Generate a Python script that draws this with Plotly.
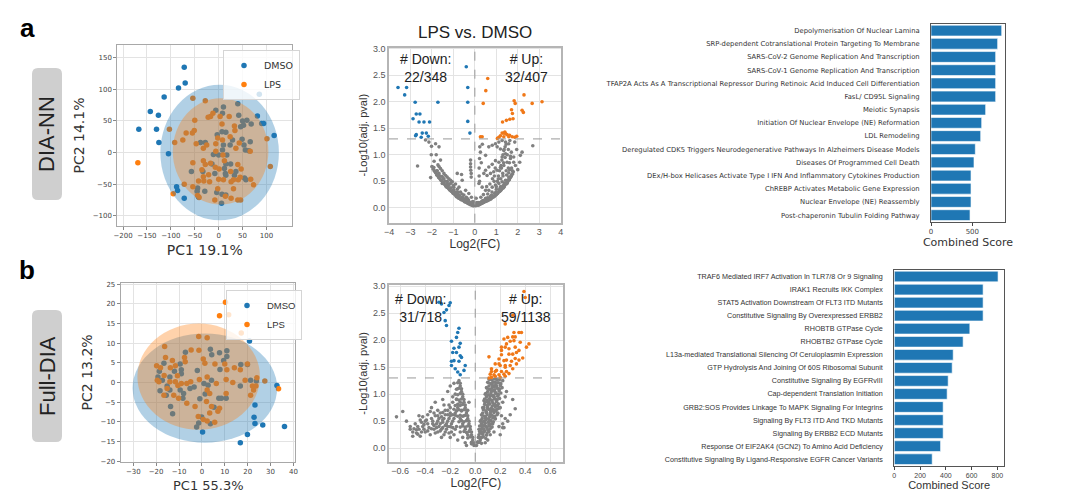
import plotly.graph_objects as go

# ---------------- data ----------------
# PCA, DIA-NN (PC1, PC2)
pca_a_dmso = [(-72, 135), (-70, 110), (-84, 102), (-114, 88), (-143, 65), (-126, 59), (-167, 37), (-130, 37),
              (-125, 16), (-105, -2), (85, 92), (81, 58), (90, 46), (94, 46), (116, 27), (-88, -54), (-86, -60),
              (-72, -72), (-6, 67), (10, 72), (8, 62), (40, 77), (42, 59), (50, 50), (59, 51), (52, 43), (46, 41),
              (68, 45), (15, 32), (7, 33), (-3, 28), (29, 20), (49, 21), (53, 12), (66, 17), (63, 3), (56, 4),
              (24, 12), (-38, 16), (-28, 16), (10, 12), (8, 4), (-11, -3), (0, -4), (17, -4), (25, -18), (15, -18),
              (-14, -18), (-57, -30), (-33, -30), (-8, -33), (14, -33), (15, -36), (12, -25), (36, -30), (54, -40),
              (57, -43), (-44, -56), (-45, -61), (-29, -61), (-4, -63), (7, -66), (15, -67), (6, -80), (-42, -70),
              (33, -36)]
pca_a_lps = [(-169, -16), (-95, -65), (-54, 86), (-28, 82), (-12, 62), (-22, 56), (-17, 57), (3, 57), (22, 57),
             (-50, 51), (7, 45), (33, 42), (34, 35), (24, 25), (-68, 31), (-51, 35), (-55, 31), (-103, 37),
             (-92, 16), (-75, 20), (-47, 14), (-32, 7), (-25, 12), (-2, 23), (-6, 14), (8, 20), (-6, 2), (9, -4),
             (43, 15), (36, 7), (66, 2), (101, 22), (108, -22), (-54, -16), (-32, -13), (-28, -19), (-17, -17),
             (-7, -23), (1, -26), (-35, -27), (25, -30), (40, -19), (47, -26), (-32, -38), (-42, -45), (-31, -45),
             (-19, -46), (0, -42), (10, -43), (26, -46), (31, -43), (41, -43), (45, -39), (67, -42), (73, -51),
             (31, -57), (-72, -50), (-54, -54), (-44, -68), (-41, -71), (-8, -75), (14, -69), (26, -72), (40, -75),
             (46, -75), (-2, -57), (-21, -35), (12, -13)]
# confidence ellipses: (center x, center y, half width, half height)
ell_a_dmso = (2, 0, 124, 107)
ell_a_lps = (4, 2, 100, 84)

# PCA, Full-DIA
pca_b_dmso = [(20.8, 10.6), (32.8, -0.75), (23.2, -5.7), (23.2, -10.4), (26.6, -10.8), (36.1, -11.2),
              (19.9, -13.2), (16.8, -15.3), (22.8, -8.8), (21.3, 0.6), (23.8, 0.4), (19.9, 4.6), (17.0, 4.6),
              (16.8, -0.9), (7.9, 3.3), (-16.6, 4.9), (-18.6, 2.9), (-19.2, 1.4), (-17.3, 0.6), (-18.3, -2.1),
              (-15.6, -3.2), (-15.2, -0.9), (-14, 1.4), (-12, 2.9), (-9.5, 4.75), (-9, 3.25), (-9, 2.25),
              (-14, -1.9), (-13.7, -6.1), (-12.8, -7.9), (-9.5, -1.9), (-8.3, -4), (-8, -2.75), (-2, 3.1),
              (-5.2, -1.5), (-3.4, -1.1), (-0.9, -4.1), (1.4, -2.9), (0.9, -0.25), (3.7, 8.5), (4.3, 7.1),
              (7.7, 7.6), (10.9, 8.1), (9.5, 5.6), (10.9, 6.6), (4.2, 0.6), (2.7, -0.7), (7.4, -4), (8.5, -4),
              (-1.4, -10.25), (-2.3, -11.3), (0.3, -12.6), (3.7, -10.5), (-0.1, -8.75), (10.6, -4), (5.3, -6.3),
              (-7.2, 7.7)]
pca_b_lps = [(10.3, 20.4), (7.7, 17), (11.7, 17.25), (17.2, 12.6), (-1.4, 11.7), (2.3, 11.4), (-16.3, 9.2),
             (-4.7, 8.3), (-1.3, 8.25), (-7.6, 6.4), (-12.9, 5.6), (-15.9, 6.4), (-19.8, 4.3), (-18.1, 3.75),
             (-13.8, 3.75), (-11.6, 4.3), (-7.3, 5.3), (0.6, 6), (1.3, 4.9), (5.7, 4.75), (10, 4.75), (10.9, 3.25),
             (14.2, 3.75), (19.9, 4.75), (16.8, 3.25), (-16.5, 1.8), (-10.7, 1.75), (-19.5, 0.6), (-18.8, 0.2),
             (-14, 0.2), (-11.6, 0.2), (-10.5, -0.75), (-9, -0.25), (-6.6, -0.25), (-4.9, 0.2), (-1.1, 0.75),
             (2.3, 1.4), (2.3, -1.9), (3.4, -2.75), (6.3, -0.25), (10.6, -2.75), (-16.6, -3.2), (-12.3, -3.2),
             (-10.2, -4), (-15.2, -1.5), (-6.6, -5.25), (-3, -6.1), (2, -4.8), (3.4, -7.75), (7, -7.3), (7.7, -6.5),
             (-1.6, -8.6), (0.6, -9.4), (2.3, -9.8), (5.6, -10.1), (4.2, -6.1), (18.9, 0.6), (22.1, -0.9),
             (22.6, -1.9), (23.6, -0.9), (27.5, 0.4), (24, 1.2), (33.5, -1.6), (21.3, -3.2), (10.6, 0.75),
             (13.5, 0)]
ell_b_dmso = (1.3, -1.4, 31.6, 13.9)
ell_b_lps = (-1.4, 1.5, 26.8, 13.5)

# Volcano, DIA-NN (log2FC, -log10 adj p)
vol_a_down = [(-0.40, 2.66), (-3.58, 2.27), (-3.18, 2.27), (-3.27, 2.13), (-0.33, 2.27), (-2.78, 1.99),
              (-1.72, 1.99), (-0.33, 1.99), (-2.73, 1.77), (-2.56, 1.77), (-2.88, 1.68), (-2.60, 1.62),
              (-2.37, 1.62), (-2.11, 1.62), (-0.33, 1.63), (-2.73, 1.38), (-2.76, 1.36), (-2.45, 1.41),
              (-2.26, 1.41), (-2.17, 1.35), (-0.23, 1.41), (-2.5, 1.33)]
vol_a_up = [(0.60, 2.44), (0.51, 2.21), (0.39, 1.97), (2.29, 2.13), (1.83, 2.02), (1.88, 1.97), (3.13, 2.0),
            (2.67, 1.97), (1.71, 1.85), (2.2, 1.84), (2.26, 1.80), (1.75, 1.78), (1.47, 1.65), (1.63, 1.67),
            (1.78, 1.68), (1.29, 1.62), (0.26, 1.34), (0.34, 1.34), (1.27, 1.41), (1.35, 1.41), (1.43, 1.40),
            (1.5, 1.38), (1.19, 1.36), (1.12, 1.33), (1.35, 1.34), (1.58, 1.34), (1.74, 1.34), (1.86, 1.33),
            (1.40, 1.43), (1.62, 1.37), (1.95, 1.35), (1.05, 1.31)]
vol_a_ns = [(-2.14, 1.24), (-2.02, 1.16), (-1.83, 1.21), (-1.67, 1.15), (-2.03, 1.0), (-2.67, 0.79), (-1.72, 0.81),
            (-2.06, 0.57), (-1.98, 0.77), (-1.67, 0.78), (-1.6, 0.74), (-1.52, 0.70), (-1.44, 0.65), (-1.36, 0.61),
            (-1.29, 0.58), (-1.21, 0.55), (-1.13, 0.52), (-1.05, 0.49), (-0.9, 0.45), (-0.74, 0.39), (-0.82, 0.65),
            (-0.62, 0.63), (-0.59, 0.52), (-0.43, 0.33), (-0.28, 0.27), (-0.16, 0.20), (-0.05, 0.11), (0.0, 0.05),
            (-0.2, 0.08), (-0.36, 0.18), (-0.51, 0.24), (-0.67, 0.30), (-0.82, 0.35), (-0.98, 0.39), (-1.13, 0.46),
            (-1.29, 0.50), (-1.44, 0.55), (-1.52, 0.59), (-1.67, 0.65), (-1.75, 0.70), (-0.2, 0.9), (-0.2, 0.83),
            (-0.2, 0.77), (-0.19, 0.71), (-0.17, 0.65), (-0.17, 0.58), (0.06, 0.18), (0.23, 1.15), (0.26, 1.05),
            (0.22, 0.93), (0.5, 0.99), (0.65, 1.15), (0.81, 1.18), (0.96, 1.21), (1.12, 1.24), (1.27, 1.27),
            (1.43, 1.24), (1.58, 1.21), (1.63, 1.27), (1.04, 1.15), (1.19, 1.11), (1.35, 1.08), (1.43, 1.02),
            (1.27, 0.96), (0.96, 0.89), (1.12, 0.86), (0.81, 0.82), (0.65, 0.77), (0.5, 0.71), (0.42, 0.65),
            (0.57, 0.61), (0.73, 0.65), (0.88, 0.68), (1.04, 0.71), (1.19, 0.76), (1.35, 0.80), (1.5, 0.86),
            (1.66, 0.93), (1.81, 0.86), (1.89, 0.80), (2.09, 0.86), (1.81, 0.96), (2.12, 0.99), (2.7, 1.17),
            (1.86, 1.24), (0.19, 0.46), (0.34, 0.39), (0.5, 0.33), (0.65, 0.33), (0.81, 0.39), (0.96, 0.43),
            (1.12, 0.46), (1.27, 0.49), (1.43, 0.52), (1.5, 0.46), (1.35, 0.39), (1.19, 0.33), (0.96, 0.27),
            (0.73, 0.22), (0.5, 0.18), (0.34, 0.13), (0.19, 0.09), (0.06, 0.07), (-0.12, 0.07), (-0.28, 0.11),
            (-0.43, 0.14), (-0.59, 0.18), (-0.74, 0.23), (-0.9, 0.27), (-1.05, 0.32), (-1.21, 0.36), (-1.36, 0.41),
            (-1.52, 0.46), (0.2, 0.6), (0.2, 0.75), (0.22, 0.5), (-0.6, 0.26), (-0.4, 0.2), (-1.0, 0.42),
            (0.4, 0.25), (0.6, 0.26), (0.8, 0.3), (1.0, 0.35), (1.2, 0.4), (1.4, 0.45), (1.6, 0.55), (1.7, 0.6),
            (1.3, 0.65), (1.1, 0.55), (0.9, 0.5), (0.7, 0.45), (0.55, 0.4), (-0.3, 0.15), (-0.1, 0.12), (0.1, 0.1),
            (0.28, 0.2), (-0.8, 0.3), (-1.2, 0.45), (2.0, 0.72), (2.2, 1.05), (1.95, 1.1), (1.7, 1.05), (0.35, 1.2),
            (0.3, 0.85), (-2.3, 1.28), (-1.8, 1.0), (-1.6, 0.9), (-1.9, 0.88),
            # dense lower band of the U
            (-2.0, 0.78), (-1.94, 0.73), (-1.88, 0.69), (-1.83, 0.66), (-1.78, 0.62), (-1.74, 0.61), (-1.69, 0.57),
            (-1.63, 0.55), (-1.58, 0.52), (-1.54, 0.51), (-1.49, 0.48), (-1.46, 0.47), (-1.41, 0.44), (-1.34, 0.42),
            (-1.31, 0.39), (-1.26, 0.38), (-1.19, 0.35), (-1.16, 0.33), (-1.09, 0.31), (-1.04, 0.29), (-1.01, 0.27),
            (-0.94, 0.25), (-0.88, 0.23), (-0.86, 0.21), (-0.79, 0.2), (-0.76, 0.18), (-0.69, 0.17), (-0.66, 0.16),
            (-0.61, 0.15), (-0.54, 0.14), (-0.49, 0.12), (-0.46, 0.11), (-0.39, 0.1), (-0.34, 0.09), (-0.31, 0.08),
            (-0.24, 0.07), (-0.21, 0.06), (-0.14, 0.05), (-0.09, 0.04), (-0.04, 0.04), (-1.91, 0.76), (-1.79, 0.7),
            (-1.71, 0.64), (-1.62, 0.6), (-1.48, 0.55), (-1.39, 0.5), (-1.28, 0.46), (-1.22, 0.42), (-1.11, 0.38),
            (-0.99, 0.34), (-0.91, 0.3), (-0.78, 0.26), (-0.72, 0.23), (-0.58, 0.2), (-0.52, 0.17), (-0.41, 0.15),
            (-0.29, 0.13), (-0.18, 0.1), (-0.11, 0.08), (0.04, 0.04), (0.11, 0.05), (0.16, 0.05), (0.21, 0.06),
            (0.24, 0.07), (0.31, 0.08), (0.36, 0.09), (0.41, 0.1), (0.44, 0.11), (0.51, 0.12), (0.56, 0.13),
            (0.61, 0.14), (0.64, 0.15), (0.71, 0.16), (0.76, 0.17), (0.79, 0.19), (0.86, 0.2), (0.91, 0.22),
            (0.94, 0.23), (1.01, 0.25), (1.06, 0.27), (1.09, 0.29), (1.16, 0.31), (1.21, 0.33), (1.24, 0.35),
            (1.31, 0.37), (1.36, 0.4), (1.39, 0.42), (1.46, 0.45), (1.51, 0.48), (1.54, 0.5), (1.61, 0.53),
            (1.66, 0.57), (1.69, 0.6), (1.76, 0.64), (1.79, 0.68), (0.12, 0.08), (0.19, 0.1), (0.32, 0.12),
            (0.39, 0.14), (0.52, 0.16), (0.59, 0.19), (0.72, 0.21), (0.78, 0.24), (0.92, 0.27), (0.98, 0.3),
            (1.12, 0.34), (1.18, 0.38), (1.32, 0.42), (1.38, 0.47), (1.52, 0.52), (1.58, 0.58), (1.72, 0.63),
            # right arm interior
            (1.0, 0.4), (1.05, 0.5), (1.1, 0.6), (1.15, 0.7), (1.22, 0.8), (1.26, 0.9), (1.31, 1.0), (1.36, 1.1),
            (1.41, 1.15), (1.46, 1.2), (1.21, 0.55), (1.31, 0.6), (1.24, 0.75), (1.34, 0.85), (1.41, 0.95),
            (1.51, 1.0), (1.56, 1.1), (1.46, 0.7), (1.56, 0.75), (1.61, 0.85), (1.66, 0.97), (1.71, 0.75),
            (0.91, 0.6), (0.82, 0.55), (0.95, 0.75), (1.48, 0.62), (1.58, 0.66), (1.62, 0.72), (1.75, 0.7)]

# Volcano, Full-DIA
vol_b_down = [(-0.20, 2.69), (-0.21, 2.64), (-0.23, 2.56), (-0.25, 2.51), (-0.29, 2.70), (-0.27, 2.67),
              (-0.24, 2.36), (-0.23, 2.27), (-0.13, 2.22), (-0.14, 2.14), (-0.19, 1.98), (-0.12, 1.94),
              (-0.17, 1.85), (-0.13, 1.87), (-0.15, 1.77), (-0.17, 1.62), (-0.13, 1.61), (-0.08, 1.53),
              (-0.19, 1.53), (-0.14, 1.41), (-0.12, 1.36), (-0.11, 1.68), (-0.16, 1.47), (-0.12, 1.71),
              (-0.18, 1.77), (-0.15, 2.05), (-0.09, 1.44), (-0.19, 1.61)]
vol_b_up = [(0.39, 2.9), (0.40, 2.79), (0.24, 2.30), (0.23, 2.02), (0.26, 2.05), (0.30, 2.06), (0.32, 2.06),
            (0.35, 2.14), (0.37, 2.14), (0.31, 1.99), (0.28, 1.98), (0.43, 1.93), (0.24, 1.87), (0.27, 1.84),
            (0.32, 1.87), (0.35, 1.81), (0.30, 1.74), (0.11, 1.69), (0.21, 1.73), (0.19, 1.65), (0.23, 1.62),
            (0.25, 1.63), (0.29, 1.61), (0.16, 1.56), (0.20, 1.53), (0.24, 1.53), (0.13, 1.47), (0.17, 1.44),
            (0.21, 1.42), (0.25, 1.42), (0.12, 1.37), (0.15, 1.36), (0.19, 1.36), (0.23, 1.37), (0.16, 1.33),
            (0.20, 1.31), (0.24, 1.33), (0.13, 1.31), (0.11, 1.30), (0.27, 1.38), (0.30, 1.47), (0.33, 1.56),
            (0.35, 1.63), (0.27, 1.74), (0.36, 1.96), (0.30, 2.46), (0.21, 1.87), (0.25, 1.93), (0.19, 1.56),
            (0.16, 1.42), (0.13, 1.42), (0.24, 1.50), (0.28, 1.53), (0.32, 1.66), (0.21, 1.81), (0.33, 1.77),
            (0.38, 1.67), (0.41, 1.87), (0.31, 2.14)]
vol_b_ns = [(0.01, 0.05), (0.02, 0.12), (0.03, 0.2), (0.04, 0.28), (0.05, 0.35), (0.06, 0.42), (0.07, 0.5),
            (0.08, 0.58), (0.09, 0.66), (0.10, 0.74), (0.11, 0.82), (0.12, 0.9), (0.13, 0.98), (0.14, 1.06),
            (0.15, 1.14), (0.16, 1.22), (0.17, 1.28), (0.05, 0.2), (0.07, 0.3), (0.09, 0.4), (0.11, 0.5),
            (0.12, 0.6), (0.14, 0.7), (0.15, 0.8), (0.17, 0.9), (0.18, 1.0), (0.19, 1.1), (0.2, 1.2), (0.22, 1.25),
            (0.03, 0.35), (0.04, 0.5), (0.05, 0.62), (0.06, 0.75), (0.07, 0.88), (0.08, 1.0), (0.09, 1.12),
            (0.1, 1.22), (0.11, 1.28), (0.13, 0.45), (0.16, 0.55), (0.18, 0.65), (0.2, 0.75), (0.22, 0.85),
            (0.24, 0.95), (0.25, 1.05), (0.21, 0.6), (0.19, 0.4), (0.15, 0.3), (0.12, 0.25), (0.1, 0.15),
            (0.08, 0.1), (0.26, 0.5), (0.28, 0.62), (0.22, 0.38), (0.2, 0.25), (0.32, 0.73), (0.3, 0.9),
            (0.17, 1.15), (0.13, 1.2), (0.15, 0.95), (0.1, 0.85), (0.06, 0.3), (0.04, 0.15), (0.09, 0.55),
            (0.18, 0.78), (0.12, 0.7),
            (-0.01, 0.05), (-0.02, 0.15), (-0.03, 0.25), (-0.04, 0.35), (-0.05, 0.45), (-0.06, 0.55),
            (-0.07, 0.65), (-0.08, 0.75), (-0.09, 0.85), (-0.1, 0.95), (-0.11, 1.05), (-0.12, 1.15),
            (-0.13, 1.25), (-0.14, 1.1), (-0.16, 1.0), (-0.18, 0.95), (-0.15, 0.9), (-0.12, 0.3), (-0.15, 0.4),
            (-0.18, 0.5), (-0.2, 0.6), (-0.22, 0.7), (-0.25, 0.55), (-0.28, 0.45), (-0.3, 0.5), (-0.32, 0.6),
            (-0.35, 0.55), (-0.38, 0.45), (-0.4, 0.5), (-0.42, 0.4), (-0.45, 0.35), (-0.48, 0.45), (-0.5, 0.3),
            (-0.47, 0.28), (-0.44, 0.22), (-0.4, 0.3), (-0.36, 0.25), (-0.33, 0.35), (-0.3, 0.3), (-0.27, 0.2),
            (-0.24, 0.3), (-0.22, 0.4), (-0.2, 0.2), (-0.17, 0.25), (-0.14, 0.15), (-0.1, 0.2), (-0.08, 0.1),
            (-0.06, 0.25), (-0.2, 0.75), (-0.25, 0.8), (-0.3, 0.7), (-0.35, 0.75), (-0.28, 0.65), (-0.18, 0.85),
            (-0.24, 0.62), (-0.38, 0.62), (-0.42, 0.58), (-0.45, 0.6), (-0.52, 0.4), (-0.55, 0.5), (-0.63, 0.58),
            (-0.58, 0.68), (-0.16, 0.65), (-0.12, 0.55), (-0.1, 0.45), (-0.08, 0.35), (-0.14, 0.75),
            (-0.12, 0.85), (-0.06, 0.7), (-0.05, 0.85), (-0.22, 1.05), (-0.2, 1.15), (-0.17, 1.2), (-0.26, 0.9),
            (-0.32, 0.85), (-0.07, 0.05), (-0.03, 0.08), (-0.09, 0.6), (-0.11, 0.7), (-0.26, 0.38), (-0.34, 0.45),
            # dense right arm of the V
            (0.02, 0.1), (0.035, 0.11), (0.05, 0.09), (0.025, 0.2), (0.045, 0.19), (0.065, 0.21), (0.085, 0.18),
            (0.035, 0.31), (0.055, 0.29), (0.075, 0.32), (0.095, 0.28), (0.11, 0.31), (0.035, 0.41), (0.055, 0.39),
            (0.075, 0.42), (0.095, 0.38), (0.115, 0.41), (0.135, 0.39), (0.045, 0.51), (0.065, 0.49),
            (0.085, 0.52), (0.105, 0.48), (0.125, 0.51), (0.145, 0.49), (0.055, 0.61), (0.075, 0.59),
            (0.095, 0.62), (0.115, 0.58), (0.135, 0.61), (0.155, 0.59), (0.175, 0.62), (0.065, 0.71),
            (0.085, 0.69), (0.105, 0.72), (0.125, 0.68), (0.145, 0.71), (0.165, 0.69), (0.175, 0.72),
            (0.075, 0.81), (0.095, 0.79), (0.115, 0.82), (0.135, 0.78), (0.155, 0.81), (0.165, 0.79),
            (0.185, 0.82), (0.075, 0.91), (0.095, 0.89), (0.115, 0.92), (0.135, 0.88), (0.155, 0.91),
            (0.175, 0.89), (0.195, 0.92), (0.085, 1.01), (0.105, 0.99), (0.125, 1.02), (0.145, 0.98),
            (0.165, 1.01), (0.185, 0.99), (0.205, 1.02), (0.095, 1.11), (0.115, 1.09), (0.135, 1.12),
            (0.155, 1.08), (0.175, 1.11), (0.195, 1.09), (0.215, 1.12), (0.105, 1.21), (0.125, 1.19),
            (0.145, 1.22), (0.165, 1.18), (0.185, 1.21), (0.205, 1.19), (0.115, 1.27), (0.135, 1.26),
            (0.155, 1.28), (0.175, 1.26), (0.195, 1.27), (0.03, 0.25), (0.06, 0.26), (0.09, 0.24),
            (0.045, 0.35), (0.07, 0.36), (0.1, 0.34), (0.12, 0.36), (0.05, 0.45), (0.08, 0.46), (0.11, 0.44),
            (0.14, 0.45), (0.055, 0.55), (0.08, 0.56), (0.11, 0.54), (0.14, 0.56), (0.16, 0.54), (0.06, 0.65),
            (0.09, 0.66), (0.12, 0.64), (0.15, 0.66), (0.18, 0.64), (0.07, 0.75), (0.1, 0.76), (0.13, 0.74),
            (0.16, 0.76), (0.19, 0.74), (0.08, 0.85), (0.11, 0.86), (0.14, 0.84), (0.17, 0.86), (0.09, 0.95),
            (0.12, 0.96), (0.15, 0.94), (0.18, 0.96), (0.1, 1.05), (0.13, 1.06), (0.16, 1.04), (0.19, 1.06),
            (0.11, 1.15), (0.14, 1.16), (0.17, 1.14), (0.2, 1.16),
            # dense left arm and cloud
            (-0.01, 0.1), (-0.03, 0.11), (-0.02, 0.2), (-0.04, 0.21), (-0.06, 0.19), (-0.03, 0.3), (-0.05, 0.31),
            (-0.07, 0.29), (-0.09, 0.31), (-0.04, 0.4), (-0.06, 0.41), (-0.08, 0.39), (-0.1, 0.41), (-0.12, 0.39),
            (-0.05, 0.5), (-0.07, 0.51), (-0.09, 0.49), (-0.11, 0.51), (-0.13, 0.49), (-0.06, 0.6), (-0.08, 0.61),
            (-0.1, 0.59), (-0.12, 0.61), (-0.14, 0.59), (-0.16, 0.61), (-0.07, 0.7), (-0.09, 0.71), (-0.11, 0.69),
            (-0.13, 0.71), (-0.15, 0.69), (-0.08, 0.8), (-0.1, 0.81), (-0.12, 0.79), (-0.14, 0.81), (-0.16, 0.79),
            (-0.09, 0.9), (-0.11, 0.91), (-0.13, 0.89), (-0.15, 0.91), (-0.1, 1.0), (-0.12, 1.01), (-0.14, 0.99),
            (-0.11, 1.1), (-0.13, 1.11), (-0.15, 1.09), (-0.12, 1.2), (-0.14, 1.21), (-0.22, 0.5), (-0.26, 0.48),
            (-0.29, 0.4), (-0.31, 0.45), (-0.34, 0.5), (-0.37, 0.38), (-0.41, 0.35), (-0.43, 0.48), (-0.46, 0.4),
            (-0.49, 0.36), (-0.25, 0.25), (-0.23, 0.35), (-0.19, 0.45), (-0.21, 0.55), (-0.27, 0.58),
            (-0.33, 0.65), (-0.36, 0.68), (-0.3, 0.6), (-0.24, 0.7), (-0.2, 0.65), (-0.17, 0.55), (-0.16, 0.35),
            (-0.19, 0.3), (-0.28, 0.32), (-0.32, 0.28), (-0.38, 0.32), (-0.43, 0.3), (-0.46, 0.26), (-0.5, 0.22),
            (-0.52, 0.35), (-0.18, 0.38), (-0.21, 0.28), (-0.23, 0.45), (-0.26, 0.52), (-0.29, 0.55),
            (-0.33, 0.42), (-0.35, 0.36), (-0.39, 0.52), (-0.41, 0.44), (-0.44, 0.52), (-0.47, 0.34),
            (-0.2, 0.4), (-0.24, 0.42), (-0.27, 0.35), (-0.31, 0.38), (-0.18, 0.62), (-0.22, 0.62),
            (-0.26, 0.66), (-0.17, 0.72), (-0.21, 0.8), (0.23, 0.38), (0.22, 0.45), (0.24, 0.55)]

counts_a = {"down": "22/348", "up": "32/407"}
counts_b = {"down": "31/718", "up": "59/1138"}
p_cut = 1.3

# Enrichment, DIA-NN
terms_a = ["Depolymerisation Of Nuclear Lamina",
           "SRP-dependent Cotranslational Protein Targeting To Membrane",
           "SARS-CoV-2 Genome Replication And Transcription",
           "SARS-CoV-1 Genome Replication And Transcription",
           "TFAP2A Acts As A Transcriptional Repressor During Retinoic Acid Induced Cell Differentiation",
           "FasL/ CD95L Signaling",
           "Meiotic Synapsis",
           "Initiation Of Nuclear Envelope (NE) Reformation",
           "LDL Remodeling",
           "Deregulated CDK5 Triggers Neurodegenerative Pathways In Alzheimers Disease Models",
           "Diseases Of Programmed Cell Death",
           "DEx/H-box Helicases Activate Type I IFN And Inflammatory Cytokines Production",
           "ChREBP Activates Metabolic Gene Expression",
           "Nuclear Envelope (NE) Reassembly",
           "Post-chaperonin Tubulin Folding Pathway"]
scores_a = [855, 806, 782, 782, 782, 782, 661, 613, 601, 536, 520, 484, 484, 484, 472]

# Enrichment, Full-DIA
terms_b = ["TRAF6 Mediated IRF7 Activation In TLR7/8 Or 9 Signaling",
           "IRAK1 Recruits IKK Complex",
           "STAT5 Activation Downstream Of FLT3 ITD Mutants",
           "Constitutive Signaling By Overexpressed ERBB2",
           "RHOBTB GTPase Cycle",
           "RHOBTB2 GTPase Cycle",
           "L13a-mediated Translational Silencing Of Ceruloplasmin Expression",
           "GTP Hydrolysis And Joining Of 60S Ribosomal Subunit",
           "Constitutive Signaling By EGFRvIII",
           "Cap-dependent Translation Initiation",
           "GRB2:SOS Provides Linkage To MAPK Signaling For Integrins",
           "Signaling By FLT3 ITD And TKD Mutants",
           "Signaling By ERBB2 ECD Mutants",
           "Response Of EIF2AK4 (GCN2) To Amino Acid Deficiency",
           "Constitutive Signaling By Ligand-Responsive EGFR Cancer Variants"]
scores_b = [805, 689, 689, 689, 586, 534, 457, 449, 418, 410, 379, 379, 379, 359, 294]

# ---------------- figure ----------------
W, H = 1080, 493
BLUE, ORANGE, GREY = "#1f77b4", "#ff7f0e", "#808080"
DV, LS = "DejaVu Sans", "Liberation Sans"


def px_x(a, b):
    return [a / W, b / W]


def px_y(top, bottom):
    return [1 - bottom / H, 1 - top / H]


def xs(pts):
    return [p[0] for p in pts]


def ys(pts):
    return [p[1] for p in pts]


fig = go.Figure()

# PCA traces
for pts, name, col, ax, lg in [
    (pca_a_dmso, "DMSO", BLUE, "", "legend"),
    (pca_a_lps, "LPS", ORANGE, "", "legend"),
    (pca_b_dmso, "DMSO", BLUE, "4", "legend2"),
    (pca_b_lps, "LPS", ORANGE, "4", "legend2"),
]:
    fig.add_trace(go.Scatter(x=xs(pts), y=ys(pts), mode="markers", name=name,
                             marker=dict(color=col, size=5.5), xaxis="x" + ax, yaxis="y" + ax,
                             legend=lg))

# Volcano traces
for ns, dn, up, ax in [(vol_a_ns, vol_a_down, vol_a_up, "2"), (vol_b_ns, vol_b_down, vol_b_up, "5")]:
    for pts, col in [(ns, GREY), (dn, BLUE), (up, "#f07818")]:
        fig.add_trace(go.Scatter(x=xs(pts), y=ys(pts), mode="markers", showlegend=False,
                                 marker=dict(color=col, size=3.6), xaxis="x" + ax, yaxis="y" + ax))

# Enrichment bars
for terms, scores, ax in [(terms_a, scores_a, "3"), (terms_b, scores_b, "6")]:
    fig.add_trace(go.Bar(x=scores, y=terms, orientation="h", marker_color=BLUE,
                         marker_line=dict(color="white", width=0.6),
                         showlegend=False, xaxis="x" + ax, yaxis="y" + ax))

tick_small = dict(size=7, color="#444", family=DV)
pca_ax = dict(showgrid=True, gridcolor="#e3e3e3", showline=True, mirror=True, linecolor="#a8a8a8",
              linewidth=1, zeroline=False, ticks="outside", ticklen=3, tickcolor="#888",
              tickfont=tick_small, automargin=False)
vol_ax = dict(showgrid=True, gridcolor="#e3e3e3", showline=True, mirror=True, linecolor="#b5b5b5",
              linewidth=1.5, zeroline=False, ticks="", tickfont=dict(size=9, color="#555", family=LS),
              automargin=False)
bar_ax = dict(showline=True, mirror=True, linecolor="#555", linewidth=1, zeroline=False, showgrid=False,
              automargin=False)

fig.update_layout(
    width=W, height=H, margin=dict(l=0, r=0, t=0, b=0),
    plot_bgcolor="white", paper_bgcolor="white", bargap=0.18,
    # PCA a
    xaxis=dict(pca_ax, domain=px_x(117.3, 292.3), range=[-212, 154], anchor="y",
               tickvals=[-200, -150, -100, -50, 0, 50, 100],
               title=dict(text="PC1 19.1%", font=dict(size=14, color="#333", family=DV), standoff=5)),
    yaxis=dict(pca_ax, domain=px_y(45, 226), range=[-116, 170], anchor="x",
               tickvals=[-100, -50, 0, 50, 100, 150],
               title=dict(text="PC2 14.1%", font=dict(size=14, color="#333", family=DV), standoff=4)),
    # volcano a
    xaxis2=dict(vol_ax, domain=px_x(389, 560.7), range=[-4, 4], anchor="y2", dtick=1,
                title=dict(text="Log2(FC)", font=dict(size=12, color="#333", family=LS), standoff=2)),
    yaxis2=dict(vol_ax, domain=px_y(47.7, 222.7), range=[-0.28, 3.02], anchor="x2", dtick=0.5,
                tickformat=".1f",
                title=dict(text="-Log10(adj. pval)", font=dict(size=11, color="#333", family=LS), standoff=3)),
    # bars a
    xaxis3=dict(bar_ax, domain=px_x(931, 1005), range=[0, 895], anchor="y3", tickvals=[0, 500],
                ticks="outside", ticklen=3, tickfont=tick_small,
                title=dict(text="Combined Score", font=dict(size=11, color="#333", family=DV), standoff=1)),
    yaxis3=dict(bar_ax, domain=px_y(24, 221.7), anchor="x3", autorange="reversed", ticks="",
                tickfont=dict(size=6.8, color="#333", family=DV), ticklabelstandoff=9),
    # PCA b (x title is placed as an annotation below, close to the page edge)
    xaxis4=dict(pca_ax, domain=px_x(120.7, 295), range=[-35.5, 40.7], anchor="y4",
                tickvals=[-30, -20, -10, 0, 10, 20, 30, 40]),
    yaxis4=dict(pca_ax, domain=px_y(282.7, 462), range=[-20.2, 25.4], anchor="x4",
                tickvals=[-20, -15, -10, -5, 0, 5, 10, 15, 20, 25],
                title=dict(text="PC2 13.2%", font=dict(size=14, color="#333", family=DV), standoff=4)),
    # volcano b
    xaxis5=dict(vol_ax, domain=px_x(389, 562.7), range=[-0.69, 0.70], anchor="y5", dtick=0.2,
                tickformat=".1f",
                title=dict(text="Log2(FC)", font=dict(size=12, color="#333", family=LS), standoff=2)),
    yaxis5=dict(vol_ax, domain=px_y(285, 461.7), range=[-0.25, 3.02], anchor="x5", dtick=0.5,
                tickformat=".1f",
                title=dict(text="-Log10(adj. pval)", font=dict(size=11, color="#333", family=LS), standoff=3)),
    # bars b
    xaxis6=dict(bar_ax, domain=px_x(894.3, 1004), range=[0, 851], anchor="y6",
                tickvals=[0, 200, 400, 600, 800], ticks="outside", ticklen=3,
                tickfont=dict(size=7, color="#444", family=LS),
                title=dict(text="Combined Score", font=dict(size=11, color="#333", family=LS), standoff=1)),
    yaxis6=dict(bar_ax, domain=px_y(270, 465.7), anchor="x6", autorange="reversed", ticks="",
                tickfont=dict(size=7.2, color="#333", family=LS), ticklabelstandoff=9),
    legend=dict(x=223 / W, y=1 - 50 / H, xanchor="left", yanchor="top", bgcolor="rgba(255,255,255,0.8)",
                bordercolor="#d5d5d5", borderwidth=1, font=dict(size=9.5, color="#333", family=DV),
                itemwidth=30, tracegroupgap=0),
    legend2=dict(x=226 / W, y=1 - 290 / H, xanchor="left", yanchor="top", bgcolor="rgba(255,255,255,0.8)",
                 bordercolor="#d5d5d5", borderwidth=1, font=dict(size=9.5, color="#333", family=LS),
                 itemwidth=30, tracegroupgap=0),
)

shapes = []
# confidence ellipses, drawn above the points
for (cx, cy, rx, ry), col, ax in [(ell_a_dmso, "rgba(31,119,180,0.35)", ""),
                                  (ell_a_lps, "rgba(255,127,14,0.35)", ""),
                                  (ell_b_dmso, "rgba(31,119,180,0.35)", "4"),
                                  (ell_b_lps, "rgba(255,127,14,0.35)", "4")]:
    shapes.append(dict(type="circle", xref="x" + ax, yref="y" + ax, x0=cx - rx, x1=cx + rx,
                       y0=cy - ry, y1=cy + ry, fillcolor=col, line=dict(width=0), layer="above"))

# thresholds in volcano plots
for ax in ["2", "5"]:
    shapes.append(dict(type="line", xref="x" + ax, yref="y" + ax + " domain", x0=0, x1=0, y0=0, y1=1,
                       line=dict(color="#999", width=1, dash="dash")))
    shapes.append(dict(type="line", xref="x" + ax + " domain", yref="y" + ax, x0=0, x1=1,
                       y0=p_cut, y1=p_cut, line=dict(color="#999", width=1, dash="dash")))


# grey rounded boxes for method labels
def rounded_box(x0, x1, top, bottom, r=6):
    X = lambda v: v / W
    Y = lambda v: 1 - v / H
    path = (f"M {X(x0 + r)},{Y(top)} L {X(x1 - r)},{Y(top)} Q {X(x1)},{Y(top)} {X(x1)},{Y(top + r)} "
            f"L {X(x1)},{Y(bottom - r)} Q {X(x1)},{Y(bottom)} {X(x1 - r)},{Y(bottom)} "
            f"L {X(x0 + r)},{Y(bottom)} Q {X(x0)},{Y(bottom)} {X(x0)},{Y(bottom - r)} "
            f"L {X(x0)},{Y(top + r)} Q {X(x0)},{Y(top)} {X(x0 + r)},{Y(top)} Z")
    return dict(type="path", xref="paper", yref="paper", path=path, fillcolor="#cfcfcf",
                line=dict(width=0), layer="below")


shapes.append(rounded_box(32, 62, 68, 200))
shapes.append(rounded_box(32, 62, 310, 442))
fig.update_layout(shapes=shapes)

ann = [
    dict(text="<b>a</b>", x=27 / W, y=1 - 28 / H, font=dict(size=26, color="black", family=LS)),
    dict(text="<b>b</b>", x=27 / W, y=1 - 270 / H, font=dict(size=26, color="black", family=LS)),
    dict(text="DIA-NN", x=47 / W, y=1 - 134 / H, textangle=-90, font=dict(size=22, color="#222", family=LS)),
    dict(text="Full-DIA", x=47 / W, y=1 - 376 / H, textangle=-90, font=dict(size=22, color="#222", family=LS)),
    dict(text="LPS vs. DMSO", x=475 / W, y=1 - 33 / H, font=dict(size=17, color="#222", family=LS)),
    dict(text="PC1 55.3%", x=208 / W, y=1 - 485 / H, font=dict(size=13, color="#333", family=DV)),
]
for a in ann:
    a.update(xref="paper", yref="paper", showarrow=False, xanchor="center", yanchor="middle")

for ax, cnt, xd, xu, yy in [("2", counts_a, -2.32, 2.4, 2.64), ("5", counts_b, -0.44, 0.41, 2.6)]:
    for xpos, lab in [(xd, "# Down:<br>" + cnt["down"]), (xu, "# Up:<br>" + cnt["up"])]:
        ann.append(dict(text=lab, x=xpos, y=yy, xref="x" + ax, yref="y" + ax, showarrow=False,
                        xanchor="center", yanchor="middle", font=dict(size=14, color="#222", family=LS)))

fig.update_layout(annotations=ann)

# drop the default page margin so the figure sits at the window's corner
fig.write_html("out.html", config={"displayModeBar": False},
               post_script="document.body.style.margin='0px';")
